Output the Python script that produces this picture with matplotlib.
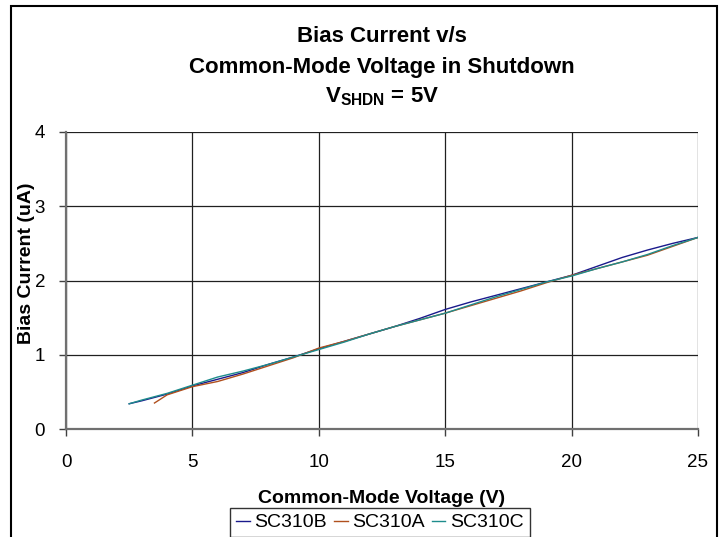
import matplotlib
matplotlib.use("Agg")
import matplotlib.pyplot as plt
from matplotlib.patches import Rectangle

plt.rcParams['font.family'] = ['Liberation Sans', 'DejaVu Sans']
plt.rcParams['mathtext.fontset'] = 'custom'
plt.rcParams['mathtext.rm'] = 'Liberation Sans'
plt.rcParams['mathtext.bf'] = 'Liberation Sans:bold'
plt.rcParams['mathtext.it'] = 'Liberation Sans:italic'

# Data
x_b = [2.5, 3, 4, 5, 6, 7, 8, 9, 10, 11, 12, 13, 14, 15, 16, 17, 18, 19, 20, 21, 22, 23, 24, 25]
sc310b = [0.34, 0.38, 0.47, 0.58, 0.67, 0.76, 0.87, 0.97, 1.08, 1.18, 1.28, 1.38, 1.49, 1.61,
          1.71, 1.80, 1.89, 1.98, 2.07, 2.19, 2.31, 2.41, 2.50, 2.58]
x_a = [3.5, 4, 5, 6, 7, 8, 9, 10, 11, 12, 13, 14, 15, 16, 17, 18, 19, 20, 21, 22, 23, 24, 25]
sc310a = [0.35, 0.46, 0.57, 0.64, 0.74, 0.85, 0.96, 1.09, 1.18, 1.28, 1.38, 1.47, 1.56, 1.66,
          1.76, 1.86, 1.97, 2.07, 2.16, 2.25, 2.34, 2.46, 2.58]
x_c = [2.5, 3, 4, 5, 6, 7, 8, 9, 10, 11, 12, 13, 14, 15, 16, 17, 18, 19, 20, 21, 22, 23, 24, 25]
sc310c = [0.34, 0.39, 0.48, 0.59, 0.70, 0.78, 0.87, 0.97, 1.07, 1.17, 1.28, 1.38, 1.47, 1.56,
          1.67, 1.78, 1.88, 1.98, 2.06, 2.16, 2.25, 2.35, 2.47, 2.58]
xticks = [0, 5, 10, 15, 20, 25]
yticks = [0, 1, 2, 3, 4]

W, H = 723, 537
fig = plt.figure(figsize=(W / 100, H / 100), dpi=100)
fig.patch.set_facecolor('white')

# outer chart frame
fig.patches.append(Rectangle((11 / W, -0.05), (717 - 11) / W, 1.05 - 6 / H,
                             transform=fig.transFigure, fill=False,
                             edgecolor='black', lw=1.5, zorder=0))

L, R, T, B = 66, 698, 132, 429
ax = fig.add_axes([L / W, 1 - B / H, (R - L) / W, (B - T) / H])

ax.plot(x_b, sc310b, color='#1a1a8c', lw=1.0, label='SC310B', zorder=3)
ax.plot(x_a, sc310a, color='#b0501e', lw=1.0, label='SC310A', zorder=3)
ax.plot(x_c, sc310c, color='#1e8c8c', lw=1.0, label='SC310C', zorder=3)

ax.set_xlim(0, 25)
ax.set_ylim(0, 4)
ax.set_xticks(xticks)
ax.set_yticks(yticks)
ax.grid(True, color='#202020', lw=0.9)
ax.set_axisbelow(True)
for s in ['top', 'right']:
    ax.spines[s].set_visible(False)
for s in ['left', 'bottom']:
    ax.spines[s].set_color('#707070')
    ax.spines[s].set_linewidth(1.6)
ax.tick_params(axis='both', direction='out', length=5, width=1, color='#404040',
               labelsize=13.5)
ax.tick_params(axis='x', pad=13)
ax.tick_params(axis='y', pad=10)

ax.set_xlabel('Common-Mode Voltage (V)', fontsize=14, fontweight='bold', labelpad=14)
fig.text(27 / W, 1 - 263 / H, 'Bias Current (uA)', rotation=90, fontsize=14,
         fontweight='bold', ha='center', va='center')

fig.text(0.5 * (L + R) / W, 1 - 37 / H, 'Bias Current v/s', fontsize=16,
         fontweight='bold', ha='center', va='center')
fig.text(0.5 * (L + R) / W, 1 - 67 / H, 'Common-Mode Voltage in Shutdown', fontsize=16,
         fontweight='bold', ha='center', va='center')
fig.text(0.5 * (L + R) / W, 1 - 97 / H, r'$\mathbf{V_{SHDN}}$ = 5V', fontsize=16,
         fontweight='bold', ha='center', va='center')

leg = fig.legend(loc='upper center', bbox_to_anchor=(380 / W, 1 - 508 / H), ncol=3,
                 fontsize=14, frameon=True, fancybox=False, handlelength=0.7,
                 handletextpad=0.25, columnspacing=0.35, borderpad=0.3,
                 borderaxespad=0)
leg.get_frame().set_edgecolor('black')
leg.get_frame().set_linewidth(1.0)

fig.savefig('out.png', dpi=100)
